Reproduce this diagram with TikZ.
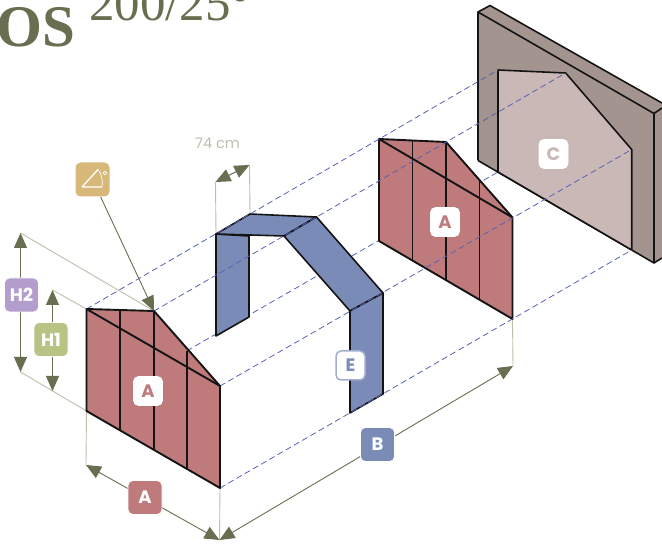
\documentclass[tikz,border=0pt]{standalone}
\usepackage{fontspec}
\setmainfont{Liberation Serif}
\setsansfont{Poppins}
\usetikzlibrary{arrows.meta}
\definecolor{olive}{HTML}{6A6E50}
\definecolor{thin}{HTML}{BDBFAB}
\definecolor{dashc}{HTML}{5862B4}
\definecolor{pink}{HTML}{BF7B7C}
\definecolor{bluef}{HTML}{7A8BB8}
\definecolor{wall}{HTML}{A39490}
\definecolor{opening}{HTML}{C9B8B5}
\definecolor{inkc}{HTML}{141414}
\definecolor{gold}{HTML}{D8B878}
\definecolor{lilac}{HTML}{B39DCC}
\definecolor{sage}{HTML}{B8C484}
\tikzset{
  guide/.style={draw=thin,line width=0.9pt},
  hidden/.style={draw=dashc,line width=0.8pt,dash pattern=on 6pt off 3.5pt},
  dim/.style={draw=olive,line width=0.9pt,{Triangle[length=15pt,width=13pt]}-{Triangle[length=15pt,width=13pt]}},
  solid part/.style={draw=inkc,line width=1.9pt,line join=round},
  bar/.style={draw=inkc,line width=1.6pt},
  wallline/.style={draw=inkc,line width=1.6pt,line join=round},
  tag/.style={rounded corners=5pt,minimum size=#1,inner sep=0pt,font=\sffamily\bfseries\fontsize{18}{18}\selectfont,text=white,draw=white,line width=0.7pt},
  tag/.default=34pt,
}
\begin{document}
\begin{tikzpicture}[x=1pt,y=-1pt]
\useasboundingbox (0,0) rectangle (662,545);
\clip (0,0) rectangle (662,545);
% title
\node[anchor=base west,inner sep=0pt,text=olive,font=\bfseries\fontsize{59}{59}\selectfont] (titleA) at (-4,46.5) {OS};
\node[anchor=base west,inner sep=0pt,text=olive,font=\fontsize{51}{51}\selectfont] (titleB) at (89,21) {200/25°};
% corners: front panel
\coordinate (fTL) at (86.5,309); \coordinate (fT) at (154,311); \coordinate (fR) at (220,386);
\coordinate (fBR) at (220,488); \coordinate (fBL) at (86.5,411); \coordinate (fM) at (187,350.7);
% corners: back panel
\coordinate (bTL) at (379,139); \coordinate (bT) at (446,142); \coordinate (bR) at (512.5,217.5);
\coordinate (bBR) at (512.5,319); \coordinate (bBL) at (379,241);
% corners: opening
\coordinate (oTL) at (498,70); \coordinate (oT) at (565.7,73); \coordinate (oR) at (631.7,149.5);
\coordinate (oBR) at (631.7,250); \coordinate (oBL) at (498,172);
% guides
\coordinate (h2a) at (20.5,233); \coordinate (h2b) at (20.5,372);
\coordinate (h1a) at (52.5,290); \coordinate (h1b) at (52.5,391);
\coordinate (aL) at (86,465); \coordinate (bot) at (219.5,540); \coordinate (bE) at (513,366);
\coordinate (w1) at (215.5,182); \coordinate (w2) at (249.5,165);
\coordinate (e1) at (216,234); \coordinate (e2) at (250,214);
\draw[guide] (h2a) -- (fT);
\draw[guide] (h2b) -- (fBL);
\draw[guide] (h1a) -- (fTL);
\draw[guide] (fBL) -- (aL);
\draw[guide] (fBR) -- (bot);
\draw[guide] (bBR) -- (bE);
\draw[guide] (e1) -- (w1);
\draw[guide] (e2) -- (w2);
% line that runs behind arch and back panel
\draw[hidden] (fM) -- (oBL);
% wall
\fill[wall] (478,12) -- (490,5.5) -- (662,103) -- (662,258) -- (654,263) -- (478,160.5) -- cycle;
\draw[wallline] (478,160.5) -- (478,12) -- (490,5.5) -- (662,103);
\draw[wallline] (478,12) -- (654,113.5) -- (654,263) -- (478,160.5);
\draw[wallline] (654,113.5) -- (662,108);
\draw[wallline] (654,263) -- (662,258);
\draw[wallline,fill=opening] (oBL) -- (oTL) -- (oT) -- (oR) -- (oBR) -- cycle;
% back panel
\filldraw[solid part,fill=pink] (bTL) -- (bT) -- (bR) -- (bBR) -- (bBL) -- cycle;
\draw[solid part] (bTL) -- (bR);
\draw[bar] (412.5,140.5) -- (412.5,260.5);
\draw[bar] (446,142) -- (446,280);
\draw[bar] (479.5,180) -- (479.5,299.5);
% arch
\coordinate (a1) at (216,234); \coordinate (a2) at (250,214); \coordinate (a3) at (316.5,217);
\coordinate (a4) at (284,236); \coordinate (a5) at (383,293); \coordinate (a6) at (350,311);
\coordinate (a7) at (383,394); \coordinate (a8) at (350,413); \coordinate (a9) at (249,236); \coordinate (a10) at (249,317);
\coordinate (a11) at (216,336);
\filldraw[wallline,fill=bluef] (a1) -- (a9) -- (a10) -- (a11) -- cycle;
\filldraw[wallline,fill=bluef] (a1) -- (a2) -- (a3) -- (a4) -- cycle;
\filldraw[wallline,fill=bluef] (a4) -- (a3) -- (a5) -- (a6) -- cycle;
\filldraw[wallline,fill=bluef] (a6) -- (a5) -- (a7) -- (a8) -- cycle;
% projection lines
\draw[hidden] (fTL) -- (oTL);
\draw[hidden] (fT) -- (oT);
\draw[hidden] (fR) -- (oR);
\draw[hidden] (fBR) -- (oBR);
% front panel
\filldraw[solid part,fill=pink] (fTL) -- (fT) -- (fR) -- (fBR) -- (fBL) -- cycle;
\draw[solid part] (fTL) -- (fR);
\draw[bar] (120,310.5) -- (120,430);
\draw[bar] (154,311) -- (154,449);
\draw[bar] (187,350.7) -- (187,468);
% icon and its arrow
\node[tag,fill=gold,draw=none] (icon) at (92.5,179.5) {};
\draw[draw=olive,line width=0.9pt,-{Triangle[length=15pt,width=13pt]}] (icon) -- (fT);
\draw[white,line width=1.3pt,line join=round] (82,187) -- (98,169.5) (82,187) -- (102,187);
\draw[white,line width=0.7pt] (98,169.5) .. controls (102,174) and (103,181) .. (102,187);
\draw[white,line width=0.8pt] (105,173) circle (1.9);
% dimension arrows
\draw[dim] (h2a) -- (h2b);
\draw[dim] (h1a) -- (h1b);
\draw[dim] (aL) -- (bot);
\draw[dim] (bot) -- (bE);
\draw[dim] (w1) -- (w2);
\node[tag,fill=lilac] (H2) at (21.5,295) {H2};
\node[tag,fill=sage] (H1) at (51,339.5) {H1};
\node[tag,fill=pink] (dimA) at (145,497.5) {A};
\node[tag,fill=bluef] (dimB) at (377.5,444.5) {B};
\node[tag=29pt,fill=white,text=pink] (labA1) at (148,391) {A};
\node[tag=29pt,fill=white,text=pink] (labA2) at (445,222) {A};
\node[tag=29pt,fill=white,text=opening] (labC) at (553.5,154) {C};
\node[tag=29pt,fill=white,text=bluef,draw=bluef!70!white,line width=1.5pt] (labE) at (350.5,365.5) {E};
\node[inner sep=0pt,text=thin,font=\sffamily\fontsize{14.5}{14.5}\selectfont] (w) at (217.5,143) {74 cm};
\end{tikzpicture}
\end{document}
